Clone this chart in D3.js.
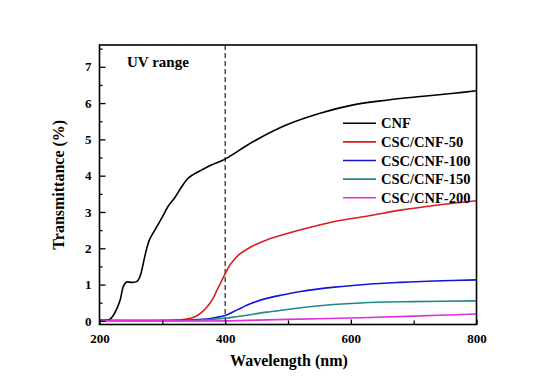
<!DOCTYPE html>
<html>
<head>
<meta charset="utf-8">
<script src="https://cdn.jsdelivr.net/npm/d3@7/dist/d3.min.js"></script>
<style>
  html, body { margin: 0; padding: 0; background: #fff; }
  svg { display: block; }
  text { font-family: "Liberation Serif", "Times New Roman", serif; font-weight: bold; fill: #000; }
</style>
</head>
<body>
<svg id="chart" width="554" height="390"></svg>
<script>
// ---- Data ----
const seriesNames = ["CNF", "CSC/CNF-50", "CSC/CNF-100", "CSC/CNF-150", "CSC/CNF-200"];
const seriesColors = ["#000000", "#d81e1e", "#1414d6", "#1f8a82", "#e02ee0"];

const cnfW = [200, 210, 216, 222, 228, 233, 238, 243, 251, 259, 264, 268, 272, 276, 280, 288, 299, 309, 320, 331, 341, 349, 363, 379, 399, 445, 498, 551, 604, 657, 711, 764, 800];
const cnfV = [0.02, 0.02, 0.04, 0.15, 0.35, 0.58, 0.95, 1.07, 1.06, 1.08, 1.2, 1.45, 1.77, 2.05, 2.25, 2.5, 2.83, 3.15, 3.4, 3.7, 3.93, 4.03, 4.16, 4.3, 4.45, 4.94, 5.4, 5.72, 5.95, 6.08, 6.18, 6.27, 6.34];

const csc50W = [200, 300, 330, 345, 355, 363, 370, 376, 382, 387, 393, 398, 403, 408, 416, 424, 440, 466, 494, 520, 574, 627, 679, 733, 800];
const csc50V = [0.01, 0.01, 0.03, 0.07, 0.14, 0.24, 0.36, 0.49, 0.66, 0.85, 1.05, 1.23, 1.4, 1.55, 1.72, 1.85, 2.03, 2.23, 2.38, 2.51, 2.74, 2.89, 3.05, 3.18, 3.31];

const csc100W = [200, 340, 370, 387, 400, 413, 427, 440, 466, 493, 520, 574, 627, 679, 733, 800];
const csc100V = [0.01, 0.02, 0.05, 0.1, 0.15, 0.25, 0.37, 0.47, 0.62, 0.72, 0.81, 0.93, 1.01, 1.06, 1.1, 1.13];

const csc150W = [200, 360, 380, 400, 420, 440, 466, 493, 520, 546, 573, 600, 653, 700, 800];
const csc150V = [0.01, 0.02, 0.04, 0.07, 0.12, 0.17, 0.24, 0.3, 0.36, 0.41, 0.45, 0.48, 0.52, 0.53, 0.55];

const csc200W = [200, 300, 400, 450, 500, 600, 700, 800];
const csc200V = [0.01, 0.0, 0.0, 0.02, 0.04, 0.08, 0.13, 0.19];

const xTickValues = [200, 400, 600, 800];
const xMinorTicks = [300, 500, 700];
const yTickValues = [0, 1, 2, 3, 4, 5, 6, 7];
const yMinorTicks = [0.5, 1.5, 2.5, 3.5, 4.5, 5.5, 6.5, 7.5];
const uvBoundary = 400;
const xTitle = "Wavelength (nm)";
const yTitle = "Transmittance (%)";
const annotation = "UV range";

// ---- Layout ----
const svg = d3.select("#chart");
const L = 99.5, R = 476.5, T = 45, B = 324.5;
const x = d3.scaleLinear().domain([200, 800]).range([L, R]);
const y = d3.scaleLinear().domain([-0.1, 7.6]).range([B, T]);

const series = [
  {w: cnfW, v: cnfV}, {w: csc50W, v: csc50V}, {w: csc100W, v: csc100V},
  {w: csc150W, v: csc150V}, {w: csc200W, v: csc200V}
];

// dashed UV line
svg.append("line")
  .attr("x1", x(uvBoundary)).attr("x2", x(uvBoundary))
  .attr("y1", T).attr("y2", B)
  .attr("stroke", "#222").attr("stroke-width", 1.2)
  .attr("stroke-dasharray", "5,3");

const line = d3.line().x(d => x(d[0])).y(d => y(d[1])).curve(d3.curveCatmullRom.alpha(0.5));
svg.append("clipPath").attr("id", "clip").append("rect")
  .attr("x", L).attr("y", T).attr("width", R - L).attr("height", B - T);
const g = svg.append("g").attr("clip-path", "url(#clip)");
series.forEach((s, i) => {
  const pts = s.w.map((w, j) => [w, s.v[j]]);
  g.append("path").datum(pts)
    .attr("d", line)
    .attr("fill", "none")
    .attr("stroke", seriesColors[i])
    .attr("stroke-width", 1.6)
    .attr("stroke-linejoin", "round");
});

// axes
const xAxis = d3.axisBottom(x).tickValues(xTickValues).tickSize(-5).tickPadding(9).tickFormat(d3.format("d"));
svg.append("g").attr("transform", `translate(0,${B})`).call(xAxis);
const xMinor = d3.axisBottom(x).tickValues(xMinorTicks).tickSize(-4).tickFormat("");
svg.append("g").attr("transform", `translate(0,${B})`).call(xMinor);

const yAxis = d3.axisLeft(y).tickValues(yTickValues).tickSize(-6).tickPadding(8).tickFormat(d3.format("d"));
svg.append("g").attr("transform", `translate(${L},0)`).call(yAxis);
const yMinor = d3.axisLeft(y).tickValues(yMinorTicks).tickSize(-3).tickFormat("");
svg.append("g").attr("transform", `translate(${L},0)`).call(yMinor);

svg.selectAll(".domain").remove();
svg.selectAll(".tick line").attr("stroke", "#000").attr("stroke-width", 1.3);
svg.selectAll(".tick text").style("font-size", "13px").style("font-family", "'Liberation Serif', serif").style("font-weight", "bold").attr("fill", "#000");

// frame
svg.append("rect")
  .attr("x", L).attr("y", T).attr("width", R - L).attr("height", B - T)
  .attr("fill", "none").attr("stroke", "#000").attr("stroke-width", 1.6);

// titles
svg.append("text").attr("x", (L + R) / 2 + 1).attr("y", 366)
  .attr("text-anchor", "middle").style("font-size", "16px").text(xTitle);
svg.append("text").attr("transform", `translate(64,${(T + B) / 2}) rotate(-90)`)
  .attr("text-anchor", "middle").style("font-size", "16px").text(yTitle);

svg.append("text").attr("x", 127).attr("y", 67).style("font-size", "15px").text(annotation);

// legend
const legY0 = 123.3, legDy = 18.6;
seriesNames.forEach((name, i) => {
  const yy = legY0 + i * legDy;
  svg.append("line").attr("x1", 343).attr("x2", 376).attr("y1", yy).attr("y2", yy)
    .attr("stroke", seriesColors[i]).attr("stroke-width", 1.6);
  svg.append("text").attr("x", 381).attr("y", yy + 5).style("font-size", "14.5px").text(name);
});
</script>
</body>
</html>
